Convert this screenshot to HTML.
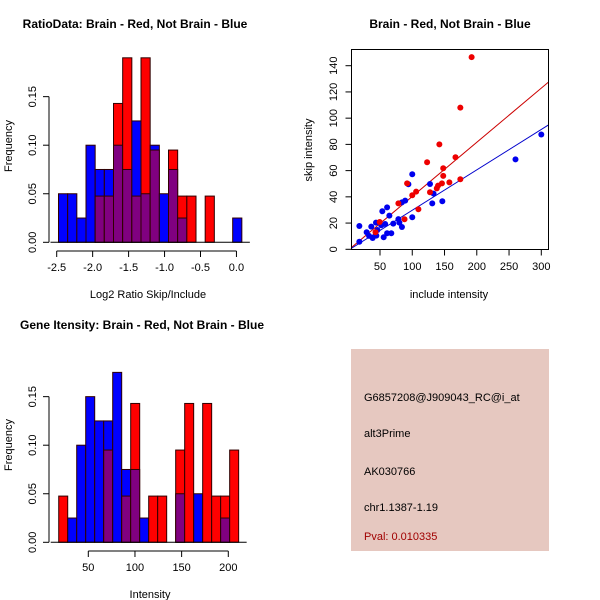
<!DOCTYPE html>
<html><head><meta charset="utf-8"><style>
body{margin:0;background:#fff}
svg{display:block;font-family:"Liberation Sans",sans-serif}
</style></head><body>
<svg id="c" width="600" height="600" viewBox="0 0 600 600">
<rect width="600" height="600" fill="#fff"/>
<text x="135" y="28" font-size="12" font-weight="bold" text-anchor="middle">RatioData: Brain - Red, Not Brain - Blue</text>
<text x="450" y="28" font-size="12" font-weight="bold" text-anchor="middle">Brain - Red, Not Brain - Blue</text>
<text x="142" y="329" font-size="12" font-weight="bold" text-anchor="middle">Gene Itensity: Brain - Red, Not Brain - Blue</text>
<text x="148" y="298" font-size="11" text-anchor="middle">Log2 Ratio Skip/Include</text>
<text x="12" y="146" font-size="11" text-anchor="middle" transform="rotate(-90 12 146)">Frequency</text>
<text x="150" y="598" font-size="11" text-anchor="middle">Intensity</text>
<text x="12" y="445" font-size="11" text-anchor="middle" transform="rotate(-90 12 445)">Frequency</text>
<text x="449" y="298" font-size="11" text-anchor="middle">include intensity</text>
<text x="312" y="150" font-size="11" text-anchor="middle" transform="rotate(-90 312 150)">skip intensity</text>
<g>
<rect x="351" y="349" width="198" height="202" fill="#e6c8c0"/>
<text x="364" y="401" font-size="11">G6857208@J909043_RC@i_at</text>
<text x="364" y="437" font-size="11">alt3Prime</text>
<text x="364" y="475" font-size="11">AK030766</text>
<text x="364" y="511" font-size="11">chr1.1387-1.19</text>
<text x="364" y="540" font-size="11" fill="#a00000">Pval: 0.010335</text>
</g>
</svg>
<script>
// Ratio histogram data
const ratioBlue=[0.05,0.05,0.025,0.10,0.075,0.075,0.10,0.075,0.125,0.05,0.10,0.05,0.075,0.025,0,0,0,0,0,0.025];
const ratioRed=[0,0,0,0,0.0476,0.0476,0.143,0.19,0.0476,0.19,0.095,0,0.095,0.0476,0.0476,0,0.0476,0,0,0];
const ratioStart=-2.475, ratioWidth=0.1275;
const ratioTicks=[-2.5,-2.0,-1.5,-1.0,-0.5,0.0];
const freqTicks=[0,0.05,0.10,0.15];
const freqLabels=["0.00","0.05","0.10","0.15"];
// Intensity histogram data
const intBlue=[0,0.025,0.10,0.15,0.125,0.125,0.175,0.075,0.075,0.025,0,0,0,0.05,0,0.05,0,0,0.025,0];
const intRed=[0.0476,0,0,0,0,0.095,0,0.0476,0.143,0,0.0476,0.0476,0,0.095,0.143,0,0.143,0.0476,0.0476,0.095];
const intStart=18.3, intWidth=9.64;
const intTicks=[50,100,150,200];
// Scatter data
const redX=[192,174.5,142,123,167,148,148,157.5,146,174.5,140,138,127.5,106,100,92,109.5,78.5,88,49.5,43];
const redY=[146.5,108,80,66.4,70.2,61.8,56,51,50.3,53.4,48.6,46.5,43.5,44,41.2,50.3,30.5,35,22.9,20.8,13];
const blueX=[300,260,100,94,127.5,133,131,146.6,100,84,89,61,53.6,64.5,78.5,80,70.5,58,52,84,18,43.8,36.5,46,29.3,61,67.5,55.7,38.6,44.3,33,18];
const blueY=[87.5,68.6,57.2,49.6,49.8,42.5,35,36.6,24.4,35.8,37.1,32,29,25.7,23,20.3,19.6,19.3,18.3,17,17.8,20.3,17.3,14.7,13,12.2,12.2,9.2,8.6,10.4,10.2,5.8];
const redFit=[-1,0.413], blueFit=[-1,0.308];
const sxTicks=[50,100,150,200,250,300];
const syTicks=[0,20,40,60,80,100,120,140];

const svg=document.getElementById('c');const NS='http://www.w3.org/2000/svg';
function el(t,a,p){const e=document.createElementNS(NS,t);for(const k in a)e.setAttribute(k,a[k]);(p||svg).appendChild(e);return e;}
function txt(x,y,s,a,p){const e=el('text',Object.assign({x:x,y:y,'font-size':11},a||{}),p);e.textContent=s;return e;}

function hist(name,blue,red,start,w,xs,ys,xTicks,xLabels,axisY,yAxisX,tickRange){
  const g=el('g',{});
  
  
  for(let i=0;i<blue.length;i++){
    const x0=xs(start+i*w),x1=xs(start+(i+1)*w);
    const b=blue[i],r=red[i],hi=Math.max(b,r),lo=Math.min(b,r);
    if(hi>0){
      const rc=el('rect',{x:x0,y:ys(hi),width:x1-x0,height:ys(0)-ys(hi),fill:b>=r?'#0000ff':'#ff0000',stroke:'#300000','stroke-width':1},g);
      
      
    }
    if(lo>0){
      const pc=el('rect',{x:x0,y:ys(lo),width:x1-x0,height:ys(0)-ys(lo),fill:'#800080',stroke:'#300000','stroke-width':1},g);
      
      
    }
  }
  el('line',{x1:yAxisX,x2:yAxisX,y1:ys(0),y2:ys(0.15),stroke:'#000'},g);
  freqTicks.forEach((t,i)=>{el('line',{x1:yAxisX-6,x2:yAxisX,y1:ys(t),y2:ys(t),stroke:'#000'},g);
    txt(yAxisX-13,ys(t),freqLabels[i],{'text-anchor':'middle',transform:`rotate(-90 ${yAxisX-13} ${ys(t)})`},g);});
  el('line',{x1:xs(tickRange[0]),x2:xs(tickRange[1]),y1:axisY,y2:axisY,stroke:'#000'},g);
  xTicks.forEach((t,i)=>{el('line',{x1:xs(t),x2:xs(t),y1:axisY,y2:axisY+6,stroke:'#000'},g);
    txt(xs(t),axisY+20,xLabels[i],{'text-anchor':'middle'},g);});
  el('line',{x1:xs(start)-8,x2:xs(start+blue.length*w)+8,y1:ys(0),y2:ys(0),stroke:'#000'},g);
}
const fy1=v=>242.3-v*971, fx1=v=>56.7+(v+2.5)*71.9;
hist('ratio-histogram',ratioBlue,ratioRed,ratioStart,ratioWidth,fx1,fy1,ratioTicks,["-2.5","-2.0","-1.5","-1.0","-0.5","0.0"],251,49,[-2.5,0]);
const fy2=v=>542.3-v*971, fx2=v=>88.3+(v-50)*0.9333;
hist('intensity-histogram',intBlue,intRed,intStart,intWidth,fx2,fy2,intTicks,["50","100","150","200"],551,49,[50,200]);

const sx=v=>380+(v-50)*0.6452, sy=v=>249.3-v*1.3114;
const sg=el('g',{});


el('rect',{x:351.5,y:49.5,width:197,height:200,fill:'none',stroke:'#000'},sg);
sxTicks.forEach(t=>{el('line',{x1:sx(t),x2:sx(t),y1:249.5,y2:255.5,stroke:'#000'},sg);txt(sx(t),270,String(t),{'text-anchor':'middle'},sg);});
syTicks.forEach(t=>{el('line',{x1:345.5,x2:351.5,y1:sy(t),y2:sy(t),stroke:'#000'},sg);txt(337,sy(t),String(t),{'text-anchor':'middle',transform:`rotate(-90 337 ${sy(t)})`},sg);});
const cp=el('clipPath',{id:'sc'},sg);el('rect',{x:352,y:50,width:196,height:199},cp);
const lg=el('g',{'clip-path':'url(#sc)'},sg);
[[redFit,'#cc0000','red-fit-line'],[blueFit,'#0000cc','blue-fit-line']].forEach(([f,c,n])=>{
  const l=el('line',{x1:sx(0),y1:sy(f[0]),x2:sx(320),y2:sy(f[0]+f[1]*320),stroke:c,'stroke-width':1},lg);
  
  
});
blueX.forEach((x,i)=>{const c=el('circle',{cx:sx(x),cy:sy(blueY[i]),r:3,fill:'#0000ee'},sg);
  
  });
redX.forEach((x,i)=>{const c=el('circle',{cx:sx(x),cy:sy(redY[i]),r:3,fill:'#ee0000'},sg);
  
  });
</script>
</body></html>
